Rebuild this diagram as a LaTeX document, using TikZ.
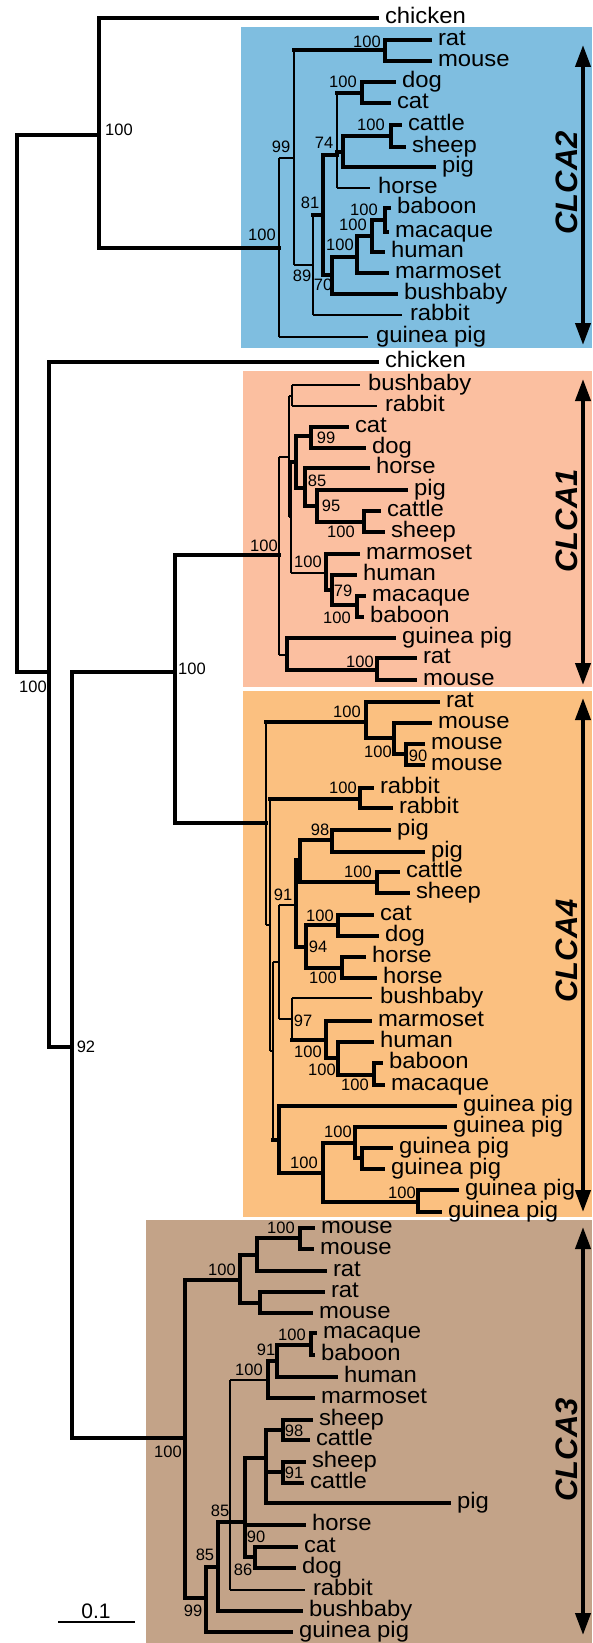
\documentclass[tikz,border=0pt]{standalone}
\usepackage{fontspec}
\setmainfont{Liberation Sans}
\newfontfamily\leaffont{Liberation Sans}[FakeStretch=1.06]
\usetikzlibrary{arrows.meta}
\definecolor{boxblue}{HTML}{7FBEE0}
\definecolor{boxsalmon}{HTML}{FBBFA0}
\definecolor{boxorange}{HTML}{FBC080}
\definecolor{boxtan}{HTML}{C3A388}
\tikzset{
  heavy/.style={line width=4.5pt,line cap=rect},
  light/.style={line width=1.1pt},
  leaf/.style={anchor=west,inner xsep=8pt,inner ysep=0pt,outer sep=0pt,
    text height=11.5pt,text depth=0pt,font=\leaffont\fontsize{22.5}{22.5}\selectfont},
  support/.style={inner sep=0pt,font=\fontsize{16.5}{16.5}\selectfont},
  clade/.style={rotate=90,inner sep=0pt,
    font=\fontsize{31}{31}\selectfont\bfseries\itshape},
  span/.style={line width=4pt,
    {Triangle[length=22pt,width=15pt]}-{Triangle[length=22pt,width=15pt]}}
}

\begin{document}
\begin{tikzpicture}[x=1pt,y=-1pt]
  \useasboundingbox (0,0) rectangle (592,1643);
  % clade boxes
  \fill[boxblue] (241,27) rectangle (592,348);
  \fill[boxsalmon] (243,371) rectangle (592,687);
  \fill[boxorange] (243,691) rectangle (592,1217);
  \fill[boxtan] (146,1220) rectangle (592,1643);

  % internal nodes
  \foreach \n/\x/\y in {root/17/400, n1/99/135, nA/49/672, nB/72/1047, nC/175/672,
      c2r/279/248, c2a/294/158, c2rm/385/50, c2b/313/265, c2c/323/215, c2d/337/155,
      c2dc/362/93, c2e/343/152, c2cs/391/136, c2f/332/275, c2g/357/257, c2h/372/236,
      c2bm/385/220,
      c1r/279/555, c1a/289/457, c1br/292/396, c1b/291/517, c1c/296/462, c1cd/311/436,
      c1d/305/488, c1e/317/506, c1cs/364/522, c1f/326/573, c1g/332/590, c1bm/357/605,
      c1h/287/655, c1rm/377/670,
      c4r/266/823, c4a/366/722, c4b/394/738, c4mm/406/754, c4c/270/925, c4rab/360/799,
      c4d/273/1051, c4e/279/962, c4f/296/905, c4g/300/860, c4pig/332/840, c4cs/377/882,
      c4h/306/947, c4cd/338/925, c4hh/342/968, c4i/292/1019, c4j/326/1040, c4k/338/1058,
      c4bm/374/1075, c4l/279/1140, c4m/323/1173, c4n/355/1143, c4o/362/1158, c4p/418/1202,
      c3r/185/1438, c3a/240/1280, c3b/257/1255, c3mm/300/1238, c3c/260/1303,
      c3d/206/1598, c3e/218/1567, c3f/230/1522, c3g/268/1380, c3h/277/1361,
      c3bm/311/1345, c3i/245/1522, c3j/266/1458, c3k/283/1430, c3l/283/1472,
      c3cd/255/1557}
    \coordinate (\n) at (\x,\y);

  % leaves
  \foreach \n/\x/\y/\t in {l1/377/18/chicken,
      l2/430/40/rat, l3/430/61/mouse, l4/394/82/dog, l5/389/103/cat, l6/400/125/cattle,
      l7/404/147/sheep, l8/434/167/pig, l9/370/188/horse, l10/389/208/baboon,
      l11/387/232/macaque, l12/383/252/human, l13/387/273/marmoset, l14/396/294/bushbaby,
      l15/402/315/rabbit, l16/368/337/guinea pig,
      l17/377/362/chicken,
      l18/360/385/bushbaby, l19/377/406/rabbit, l20/347/427/cat, l21/364/448/dog,
      l22/368/468/horse, l23/406/490/pig, l24/379/511/cattle, l25/383/532/sheep,
      l26/358/554/marmoset, l27/355/575/human, l28/364/596/macaque, l29/362/617/baboon,
      l30/394/638/guinea pig, l31/415/658/rat, l32/415/680/mouse,
      l33/438/702/rat, l34/430/723/mouse, l35/423/744/mouse, l36/423/765/mouse,
      l37/372/788/rabbit, l38/391/808/rabbit, l39/389/830/pig, l40/423/852/pig,
      l41/398/872/cattle, l42/408/893/sheep, l43/372/915/cat, l44/377/936/dog,
      l45/364/957/horse, l46/375/978/horse, l47/372/998/bushbaby, l48/370/1021/marmoset,
      l49/372/1042/human, l50/381/1063/baboon, l51/383/1085/macaque,
      l52/455/1106/guinea pig, l53/445/1127/guinea pig, l54/391/1148/guinea pig,
      l55/383/1169/guinea pig, l56/457/1190/guinea pig, l57/440/1212/guinea pig,
      l58/313/1228/mouse, l59/312/1249/mouse, l60/325/1271/rat, l61/323/1292/rat,
      l62/311/1313/mouse, l63/315/1333/macaque, l64/313/1355/baboon, l65/336/1377/human,
      l66/313/1398/marmoset, l67/311/1420/sheep, l68/308/1440/cattle, l69/304/1462/sheep,
      l70/302/1483/cattle, l71/449/1503/pig, l72/304/1525/horse, l73/296/1547/cat,
      l74/294/1568/dog, l75/305/1590/rabbit, l76/301/1611/bushbaby,
      l77/291/1632/guinea pig}
    \node[leaf] (\n) at (\x,\y) {\t};

  % branches: parent/child/vertical style/horizontal style
  \foreach \p/\c/\v/\h in {root/n1/heavy/heavy, root/nA/heavy/heavy,
      n1/l1/heavy/heavy, n1/c2r/heavy/heavy, nA/l17/heavy/heavy, nA/nB/heavy/heavy,
      nB/nC/heavy/heavy, nB/c3r/heavy/heavy, nC/c1r/heavy/heavy, nC/c4r/heavy/heavy,
      c2r/c2a/light/light, c2r/l16/light/light, c2a/c2rm/light/heavy, c2a/c2b/light/light,
      c2rm/l2/heavy/heavy, c2rm/l3/heavy/heavy, c2b/c2c/light/heavy, c2b/l15/light/light,
      c2c/c2d/heavy/heavy, c2c/c2f/heavy/heavy, c2d/c2dc/light/heavy, c2d/c2e/light/heavy,
      c2d/l9/light/light, c2dc/l4/heavy/heavy, c2dc/l5/heavy/heavy, c2e/c2cs/heavy/heavy,
      c2e/l8/heavy/heavy, c2cs/l6/heavy/heavy, c2cs/l7/heavy/heavy, c2f/c2g/heavy/heavy,
      c2f/l14/heavy/heavy, c2g/c2h/heavy/heavy, c2g/l13/heavy/heavy, c2h/c2bm/heavy/heavy,
      c2h/l12/heavy/heavy, c2bm/l10/heavy/heavy, c2bm/l11/heavy/heavy,
      c1r/c1a/light/light, c1r/c1h/light/light, c1a/c1br/light/light, c1a/c1b/light/light,
      c1br/l18/light/light, c1br/l19/light/light, c1b/c1c/light/heavy, c1b/c1f/light/light,
      c1c/c1cd/heavy/heavy, c1c/c1d/heavy/heavy, c1cd/l20/heavy/heavy, c1cd/l21/heavy/heavy,
      c1d/l22/heavy/heavy, c1d/c1e/heavy/heavy, c1e/l23/heavy/heavy, c1e/c1cs/heavy/heavy,
      c1cs/l24/heavy/heavy, c1cs/l25/heavy/heavy, c1f/l26/heavy/heavy, c1f/c1g/heavy/heavy,
      c1g/l27/heavy/heavy, c1g/c1bm/heavy/heavy, c1bm/l28/heavy/heavy, c1bm/l29/heavy/heavy,
      c1h/l30/heavy/heavy, c1h/c1rm/heavy/heavy, c1rm/l31/heavy/heavy, c1rm/l32/heavy/heavy,
      c4r/c4a/light/heavy, c4r/c4c/light/light, c4a/l33/heavy/heavy, c4a/c4b/heavy/heavy,
      c4b/l34/heavy/heavy, c4b/c4mm/heavy/heavy, c4mm/l35/heavy/heavy, c4mm/l36/heavy/heavy,
      c4c/c4rab/light/heavy, c4c/c4d/light/light, c4rab/l37/heavy/heavy, c4rab/l38/heavy/heavy,
      c4d/c4e/light/light, c4d/c4l/light/heavy, c4e/c4f/light/light, c4e/c4i/light/light,
      c4f/c4g/heavy/heavy, c4f/c4h/heavy/heavy, c4g/c4pig/heavy/heavy, c4g/c4cs/heavy/heavy,
      c4pig/l39/heavy/heavy, c4pig/l40/heavy/heavy, c4cs/l41/heavy/heavy, c4cs/l42/heavy/heavy,
      c4h/c4cd/heavy/heavy, c4h/c4hh/heavy/heavy, c4cd/l43/heavy/heavy, c4cd/l44/heavy/heavy,
      c4hh/l45/heavy/heavy, c4hh/l46/heavy/heavy, c4i/l47/light/light, c4i/c4j/light/heavy,
      c4j/l48/heavy/heavy, c4j/c4k/heavy/heavy, c4k/l49/heavy/heavy, c4k/c4bm/heavy/heavy,
      c4bm/l50/heavy/heavy, c4bm/l51/heavy/heavy, c4l/l52/heavy/heavy, c4l/c4m/heavy/heavy,
      c4m/c4n/heavy/heavy, c4m/c4p/heavy/heavy, c4n/l53/heavy/heavy, c4n/c4o/heavy/heavy,
      c4o/l54/heavy/heavy, c4o/l55/heavy/heavy, c4p/l56/heavy/heavy, c4p/l57/heavy/heavy,
      c3r/c3a/heavy/heavy, c3r/c3d/heavy/heavy, c3a/c3b/heavy/heavy, c3a/c3c/heavy/heavy,
      c3b/c3mm/heavy/heavy, c3b/l60/heavy/heavy, c3mm/l58/heavy/heavy, c3mm/l59/heavy/heavy,
      c3c/l61/heavy/heavy, c3c/l62/heavy/heavy, c3d/c3e/heavy/heavy, c3d/l77/heavy/heavy,
      c3e/c3f/heavy/heavy, c3e/l76/heavy/heavy, c3f/c3g/light/light, c3f/c3i/light/heavy,
      c3f/l75/light/light, c3g/c3h/heavy/heavy, c3g/l66/heavy/heavy, c3h/c3bm/heavy/heavy,
      c3h/l65/heavy/heavy, c3bm/l63/heavy/heavy, c3bm/l64/heavy/heavy, c3i/c3j/heavy/heavy,
      c3i/l72/heavy/heavy, c3i/c3cd/heavy/heavy, c3j/c3k/heavy/heavy, c3j/c3l/heavy/heavy,
      c3j/l71/heavy/heavy, c3k/l67/heavy/heavy, c3k/l68/heavy/heavy, c3l/l69/heavy/heavy,
      c3l/l70/heavy/heavy, c3cd/l73/heavy/heavy, c3cd/l74/heavy/heavy} {
    \draw[\v] (\p) -- (\p |- \c);
    \draw[\h] (\p |- \c) -- (\c);
  }

  % bootstrap values
  \foreach \n/\x/\y/\t in {b1/119/130/100, b2/33/687/100, b3/86/1047/92, b4/192/669/100,
      b5/262/235/100, b6/281/147/99, b7/302/276/89, b8/310/203/81, b9/324/143/74,
      b10/343/82/100, b11/371/125/100, b12/367/42/100, b13/323/285/70, b14/340/245/100,
      b15/353/225/100, b16/364/210/100,
      b17/264/546/100, b18/326/438/99, b19/317/481/85, b20/331/506/95, b21/341/532/100,
      b22/308/562/100, b23/343/591/79, b24/337/618/100, b25/360/662/100,
      b26/347/712/100, b27/378/752/100, b28/418/756/90, b29/343/788/100, b30/320/830/98,
      b31/358/872/100, b32/283/895/91, b33/320/916/100, b34/318/947/94, b35/323/978/100,
      b36/303/1021/97, b37/308/1052/100, b38/322/1070/100, b39/355/1085/100,
      b40/338/1132/100, b41/304/1163/100, b42/402/1193/100,
      b43/168/1452/100, b44/222/1270/100, b45/281/1228/100, b46/292/1335/100,
      b47/266/1350/91, b48/249/1370/100, b49/294/1431/98, b50/294/1473/91,
      b51/220/1511/85, b52/256/1537/90, b53/205/1555/85, b54/243/1570/86, b55/193/1611/99}
    \node[support] (\n) at (\x,\y) {\t};

  % clade spans
  \foreach \n/\top/\bot/\y/\t in {two/45/345/183/CLCA2, one/379/685/521/CLCA1,
      four/698/1212/951/CLCA4, three/1227/1635/1450/CLCA3} {
    \coordinate (\n top) at (583,\top);
    \coordinate (\n bot) at (583,\bot);
    \draw[span] (\n top) -- (\n bot);
    \node[clade] (\n lab) at (567,\y) {\t};
  }

  % scale bar
  \node[support,font=\fontsize{21}{21}\selectfont] (scale) at (96,1611) {0.1};
  \coordinate (sbl) at (58,1622);
  \coordinate (sbr) at (135,1622);
  \draw[line width=2pt] (sbl) -- (sbr);
\end{tikzpicture}
\end{document}
